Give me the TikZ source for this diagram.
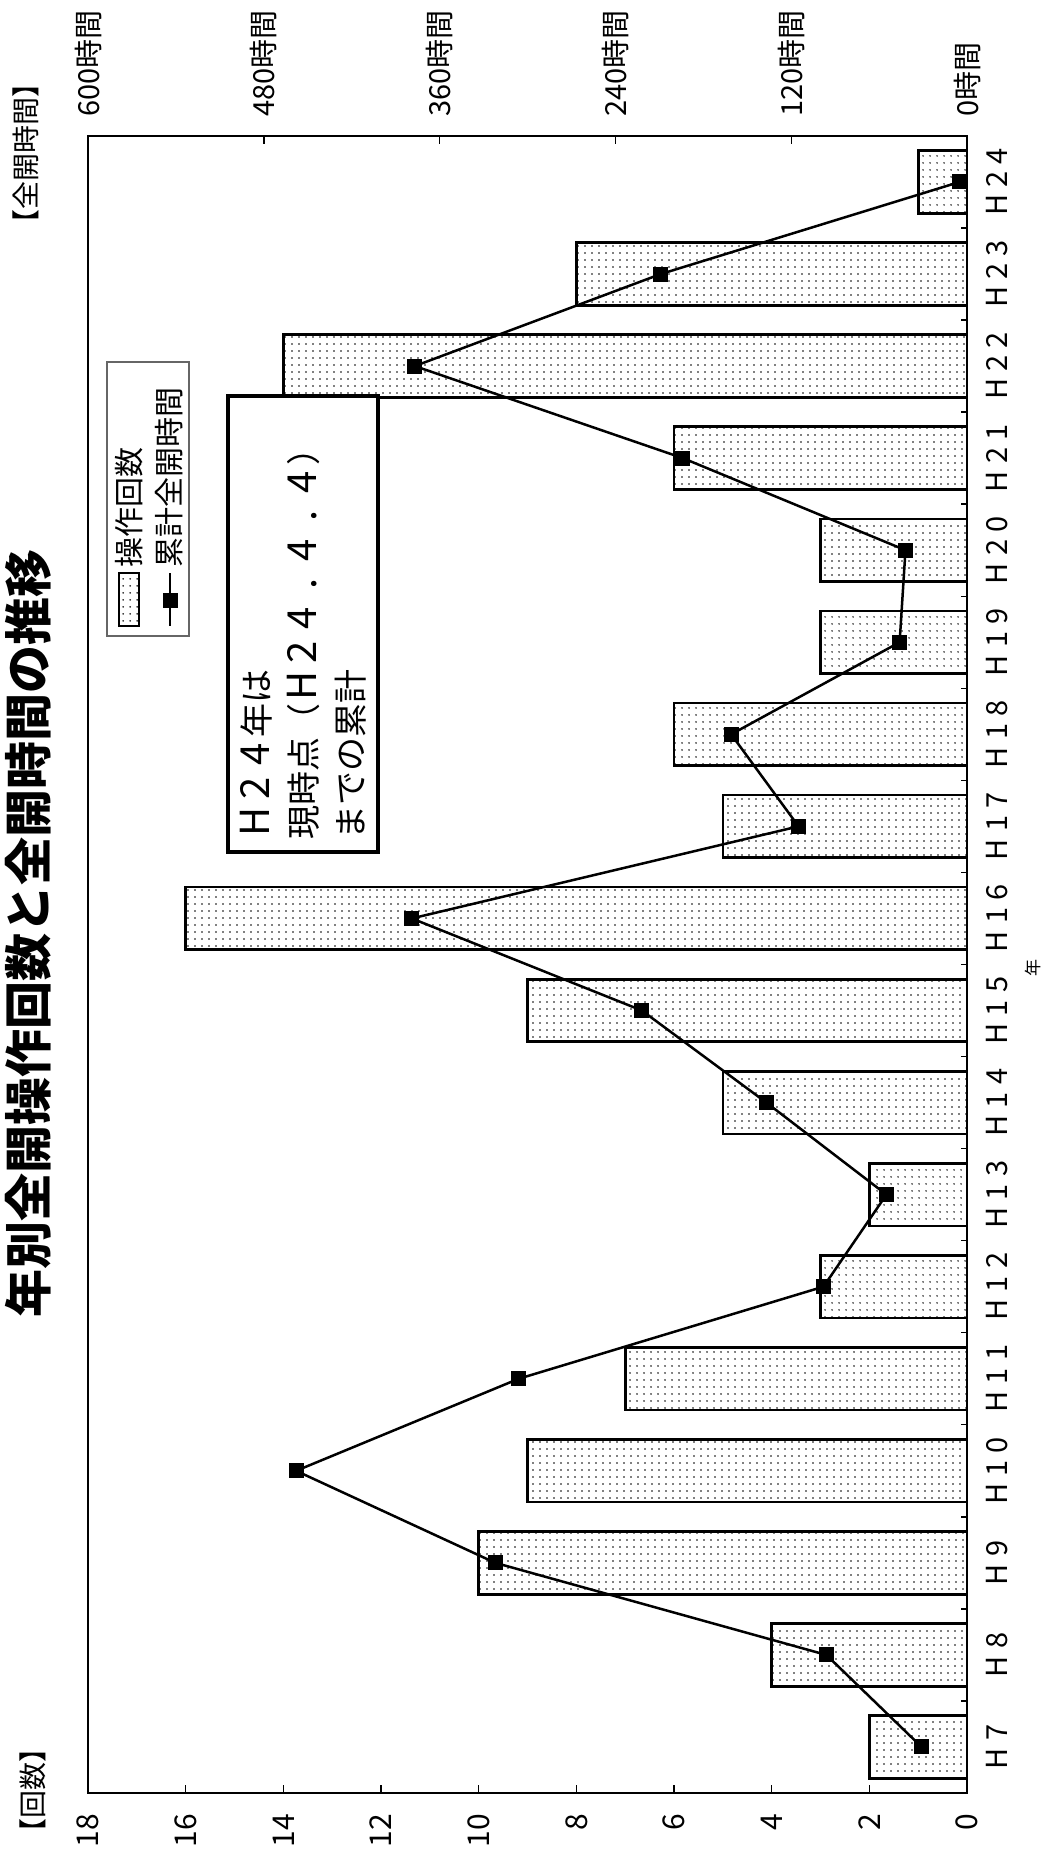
\documentclass[tikz,border=0pt]{standalone}
\usepackage{fontspec}
\setmainfont{Noto Sans CJK JP}
\newfontfamily\yearfont[LetterSpace=25]{Noto Sans CJK JP}
\usetikzlibrary{patterns.meta}
\newcommand\zw[1]{\makebox[1em]{\fontsize{40}{47}\selectfont #1}}

\tikzset{
  frame/.style={draw=black, line width=2.7pt},
  bar/.style={draw=black, line width=2.7pt, pattern={Dots[distance=6.5pt,radius=0.9pt]}, pattern color=black},
  tick/.style={draw=black, line width=1.4pt},
  plotline/.style={draw=black, line width=2.5pt},
  sqmark/.style={fill=black, minimum size=15pt, inner sep=0pt},
  rtext/.style={rotate=90, inner sep=0pt},
  yearlabel/.style={rtext, font=\yearfont\fontsize{29}{34}\selectfont},
  countlabel/.style={rtext, anchor=east, font=\fontsize{30}{34}\selectfont},
  hourlabel/.style={rtext, anchor=west, font=\fontsize{29}{34}\selectfont},
  legendtext/.style={rtext, anchor=west, font=\fontsize{30}{34}\selectfont},
  unitlabel/.style={rtext, font=\fontsize{28}{32}\selectfont},
}

\begin{document}
\begin{tikzpicture}[x=1pt,y=-1pt]
  \useasboundingbox (0,0) rectangle (1044,1862);

  % chart: years run upward, counts run to the left
  \begin{scope}[shift={(967,1793)}, x={(0pt,92.06pt)}, y={(-48.83pt,0pt)}]
    \foreach \i/\n in {1/2,2/4,3/10,4/9,5/7,6/3,7/2,8/5,9/9,10/16,11/5,12/6,13/3,14/3,15/6,16/14,17/8,18/1}
      \draw[bar] (\i-0.84,0) rectangle (\i-0.16,\n);

    \draw[frame] (0,0) rectangle (18,18);
    \foreach \k in {1,...,17} \draw[tick] (\k,0) -- (\k,0.123);
    \foreach \v in {2,4,...,16} \draw[tick] (0,\v) -- (0.087,\v);
    \foreach \h in {120,240,360,480} \draw[tick] (18,\h*0.03) -- (17.913,\h*0.03);

    \foreach \i/\h in {1/31,2/96,3/322,4/458,5/306,6/98,7/55,8/137,9/222,10/379,11/115,12/161,13/46,14/42,15/194,16/377,17/209,18/5}
      \coordinate (p\i) at (\i-0.5,\h*0.03);
    \draw[plotline] (p1) \foreach \i in {2,...,18} {-- (p\i)};
    \foreach \i in {1,...,18} \node[sqmark] (m\i) at (p\i) {};

    \foreach \i/\t in {1/H7,2/H8,3/H9,4/H10,5/H11,6/H12,7/H13,8/H14,9/H15,10/H16,11/H17,12/H18,13/H19,14/H20,15/H21,16/H22,17/H23,18/H24}
      \node[yearlabel] (y\i) at (\i-0.5,-0.614) {\t};
    \foreach \v in {0,2,...,18} \node[countlabel] (c\v) at (-0.228,\v) {\v};
    \foreach \h in {0,120,...,600} \node[hourlabel] (h\h) at (18.21,\h*0.03) {{\h}時間};
  \end{scope}

  \node[rtext, font=\bfseries\fontsize{48}{56}\selectfont] (title) at (28,933) {年別全開操作回数と全開時間の推移};
  \node[unitlabel] (unitH) at (26,154) {【全開時間】};
  \node[unitlabel] (unitN) at (33,1790) {【回数】};
  \node[rtext, font=\fontsize{17}{20}\selectfont] (yearax) at (1033,968) {年};

  % legend
  \draw[draw=black!60, line width=1.2pt, fill=white] (107,362) rectangle (189,636);
  \draw[bar, line width=2.2pt] (119,573) rectangle (139,626);
  \draw[plotline] (170,573) -- (170,626);
  \node[sqmark] (lgm) at (170,600) {};
  \node[legendtext] (lg1) at (129,568) {操作回数};
  \node[legendtext] (lg2) at (169,568) {累計全開時間};

  % note
  \node[rtext, draw=black, line width=4pt, fill=white, minimum width=456pt, minimum height=150pt,
        text width=430pt, inner xsep=13pt, align=left, font=\fontsize{34}{47}\selectfont] (note) at (303,624)
    {\zw{H}\zw{2}\zw{4}年は\\現時点（\zw{H}\zw{2}\zw{4}\zw{.}\zw{4}\zw{.}\zw{4}）\\までの累計};
\end{tikzpicture}
\end{document}
